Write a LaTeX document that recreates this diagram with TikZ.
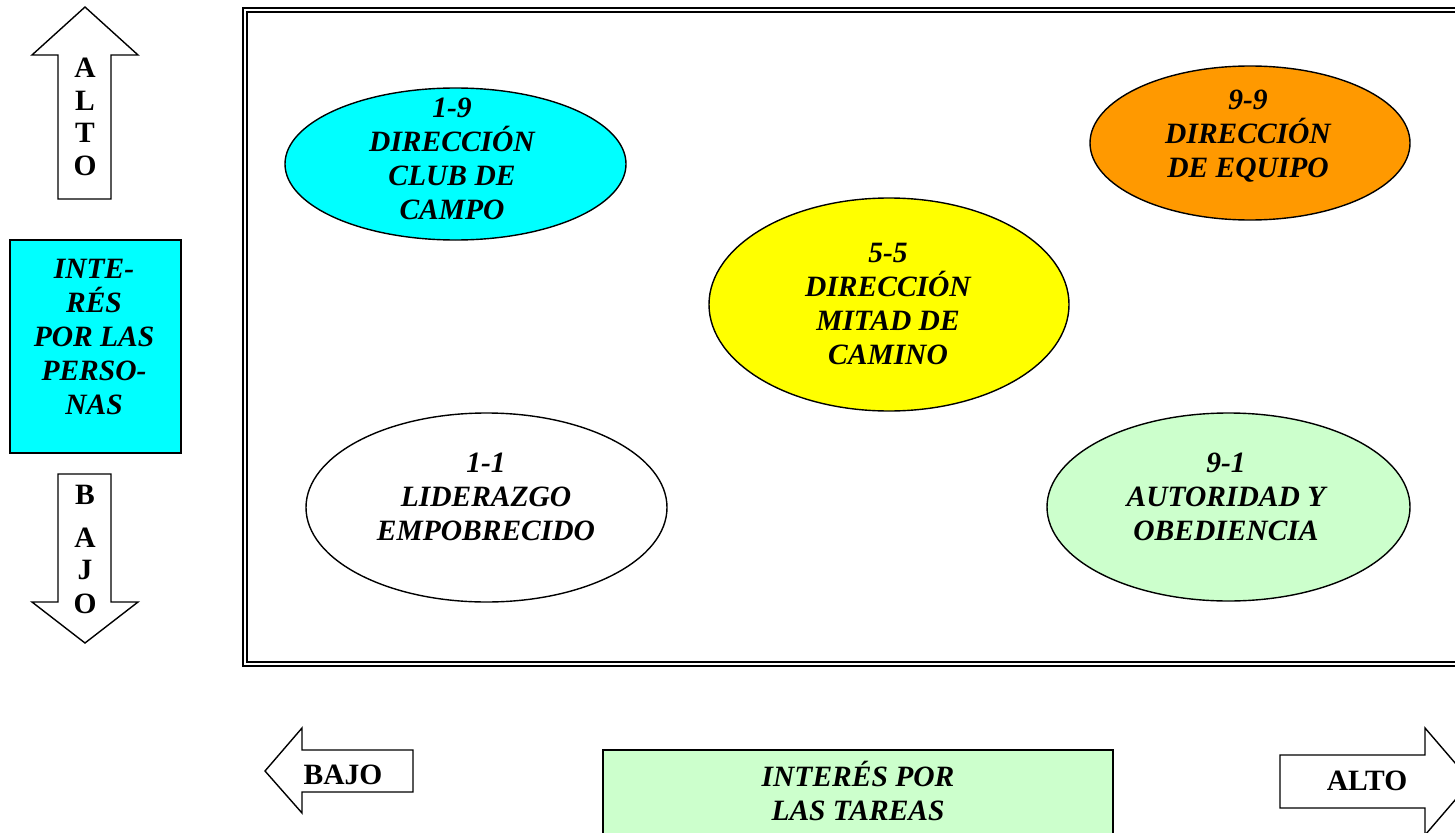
\documentclass[tikz,border=0pt]{standalone}
\usepackage{fontspec}
\setmainfont{Liberation Serif}
\usepackage{tikz}

\definecolor{cyanfill}{HTML}{00FFFF}
\definecolor{orangefill}{HTML}{FF9900}
\definecolor{yellowfill}{HTML}{FFFF00}
\definecolor{greenfill}{HTML}{CCFFCC}

\tikzset{
  lbl/.style={font=\fontsize{29.5}{34}\selectfont\bfseries\itshape, align=center, inner sep=0pt},
  letter/.style={font=\fontsize{29.5}{34}\selectfont\bfseries, inner sep=0pt},
  outline/.style={draw=black, line width=1.4pt, join=miter},
}

\begin{document}
\begin{tikzpicture}[x=1pt,y=-1pt]
   \useasboundingbox (0,0) rectangle (1455,832);
   \clip (0,0) rectangle (1455,832);
   % frame
   \draw[line width=1.3pt, double, double distance=2.6pt] (245,10) rectangle (1480,664);
   % styles as ellipses
   \filldraw[outline, fill=cyanfill] (455.5,164) ellipse (170.5 and 76);
   \filldraw[outline, fill=orangefill] (1250,143) ellipse (160 and 77);
   \filldraw[outline, fill=yellowfill] (889,304.5) ellipse (180 and 106.5);
   \filldraw[outline, fill=white] (486.5,507.5) ellipse (180.5 and 94.5);
   \filldraw[outline, fill=greenfill] (1228.5,507) ellipse (181.5 and 94);
   \node[lbl] (s19) at (452,158.5) {1-9\\DIRECCIÓN\\CLUB DE\\CAMPO};
   \node[lbl] (s99) at (1248,136.5) {9-9\\DIRECCIÓN\\DE EQUIPO};
   \node[lbl] (s55) at (888,304) {5-5\\DIRECCIÓN\\MITAD DE\\CAMINO};
   \node[lbl] (s11) at (486,497) {1-1\\LIDERAZGO\\EMPOBRECIDO};
   \node[lbl] (s91) at (1226,497) {9-1\\AUTORIDAD Y\\OBEDIENCIA};
   % vertical axis
   \filldraw[outline, fill=white] (85,7)--(138,55)--(111,55)--(111,199)--(58,199)--(58,55)--(32,55)--cycle;
   \filldraw[outline, fill=white] (85,643)--(138,602)--(111,602)--(111,474)--(58,474)--(58,602)--(32,602)--cycle;
   \filldraw[outline, fill=cyanfill] (10,240) rectangle (181,453);
   \node[lbl] (personas) at (94,337) {INTE-\\RÉS\\POR LAS\\PERSO-\\NAS};
   \fill[black]
            (85,68) node[letter] (up1) {A}
            (85,101) node[letter] (up2) {L}
            (85,133) node[letter] (up3) {T}
            (85,166) node[letter] (up4) {O}
            (85,495) node[letter] (dn1) {B}
            (85,538) node[letter] (dn2) {A}
            (85,570) node[letter] (dn3) {J}
            (85,604) node[letter] (dn4) {O};
   % horizontal axis
   \filldraw[outline, fill=white] (265,771)--(302,728)--(302,750)--(413,750)--(413,792)--(302,792)--(302,813)--cycle;
   \filldraw[outline, fill=white] (1471,781.5)--(1425,728)--(1425,755)--(1280,755)--(1280,808)--(1425,808)--(1425,835)--cycle;
   \filldraw[outline, fill=greenfill] (603,750) rectangle (1113,860);
   \node[lbl] (tareas) at (858,791) {INTERÉS POR\\LAS TAREAS};
   \node[letter] (bajo) at (343,775) {BAJO};
   \node[letter] (alto) at (1367,781) {ALTO};
\end{tikzpicture}
\end{document}
